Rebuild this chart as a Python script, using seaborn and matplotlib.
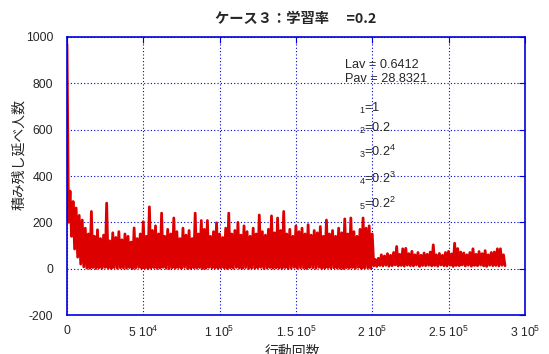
import numpy as np
import pandas as pd
import matplotlib
matplotlib.use("Agg")
import matplotlib.pyplot as plt
import seaborn as sns

# peak value per 2000-step bin
peak_vals = [
    970, 335, 290, 262, 230, 210, 175, 150, 247, 140,
    168, 130, 145, 283, 120, 155, 135, 160, 125, 150,
    140, 115, 176, 130, 150, 203, 140, 267, 165, 185,
    150, 240, 140, 170, 150, 219, 160, 130, 175, 145,
    165, 130, 240, 150, 208, 170, 208, 140, 160, 198,
    150, 135, 175, 240, 150, 165, 200, 145, 185, 160,
    140, 175, 150, 232, 160, 145, 170, 228, 155, 219,
    165, 247, 150, 170, 140, 185, 160, 175, 150, 190,
    145, 165, 155, 182, 140, 210, 150, 165, 140, 175,
    155, 215, 150, 219, 160, 140, 170, 219, 175, 185,
    150, 40, 45, 60, 55, 65, 58, 70, 96, 62,
    86, 88, 65, 75, 60, 70, 58, 68, 62, 72,
    103, 60, 66, 58, 70, 75, 64, 110, 87, 72,
    68, 60, 70, 86, 62, 74, 65, 78, 60, 70,
    72, 86, 86, 60,
]
# trough value per bin (half a bin later)
low_vals = [
    200, 140, 85, 50, 20, 8, 3, 2, 5, 1,
    4, 2, 6, 3, 1, 5, 2, 4, 3, 2,
    5, 1, 3, 6, 2, 4, 1, 3, 5, 2,
    3, 6, 2, 1, 4, 3, 5, 2, 6, 1,
    2, 4, 3, 5, 1, 2, 6, 3, 4, 2,
    5, 3, 1, 4, 2, 6, 3, 2, 5, 1,
    3, 2, 4, 6, 1, 3, 5, 2, 4, 3,
    2, 5, 1, 3, 6, 2, 4, 3, 1, 5,
    4, 2, 6, 1, 3, 5, 2, 4, 3, 2,
    1, 4, 3, 5, 2, 6, 1, 3, 4, 2,
    12, 10, 14, 12, 15, 11, 13, 16, 12, 14,
    11, 15, 13, 12, 16, 10, 14, 13, 15, 12,
    14, 11, 16, 13, 12, 15, 10, 14, 13, 16,
    12, 15, 11, 14, 13, 16, 12, 10, 15, 13,
    14, 12, 15, 13,
]
bin_size = 2000

xticks = [0, 50000, 100000, 150000, 200000, 250000, 300000]
xtick_labels = ["0", r"5 $10^{4}$", r"1 $10^{5}$", r"1.5 $10^{5}$",
                r"2 $10^{5}$", r"2.5 $10^{5}$", r"3 $10^{5}$"]
yticks = [-200, 0, 200, 400, 600, 800, 1000]
ytick_labels = ["-200", "0", "200", "400", "600", "800", "1000"]

title = "ケース３：学習率　 =0.2"
stats = ["Lav = 0.6412", "Pav = 28.8321"]
params = [r"${}_{1}$=1", r"${}_{2}$=0.2", r"${}_{3}$=0.2$^{4}$",
          r"${}_{4}$=0.2$^{3}$", r"${}_{5}$=0.2$^{2}$"]

n = len(peak_vals)
steps = np.empty(2 * n)
vals = np.empty(2 * n)
steps[0::2] = np.arange(n) * bin_size
steps[1::2] = np.arange(n) * bin_size + bin_size / 2
vals[0::2] = peak_vals
vals[1::2] = low_vals
df = pd.DataFrame({"step": steps, "value": vals})

sns.set_style("white")
plt.rcParams["font.family"] = ["Liberation Sans", "Noto Sans CJK JP"]
plt.rcParams["mathtext.fontset"] = "custom"
plt.rcParams["mathtext.rm"] = "Liberation Sans"
plt.rcParams["mathtext.it"] = "Liberation Sans"
plt.rcParams["axes.unicode_minus"] = False

blue = "#0000dd"
cjk = ["Noto Sans CJK JP", "DejaVu Sans"]
fig = plt.figure(figsize=(5.49, 3.54), dpi=100)
ax = fig.add_axes([0.122, 0.110, 0.834, 0.7855])

sns.lineplot(data=df, x="step", y="value", estimator=None, sort=False,
             color="#dd0000", linewidth=2.0, ax=ax)

ax.set_xlim(0, 300000)
ax.set_ylim(-200, 1000)
ax.set_xticks(xticks)
ax.set_xticklabels(xtick_labels)
ax.set_yticks(yticks)
ax.set_yticklabels(ytick_labels)
ax.tick_params(axis="both", direction="in", color=blue, length=4,
               labelsize=8.8, top=True, right=True)
ax.tick_params(axis="x", pad=7)
ax.tick_params(axis="y", pad=10)
ax.grid(True, color=blue, linestyle=(0, (1, 2)), linewidth=0.8)
for sp in ax.spines.values():
    sp.set_color(blue)
    sp.set_linewidth(1.2)

ax.set_title(title, fontsize=10.3, fontweight="bold", pad=10, family=cjk)
ax.set_ylabel("積み残し延べ人数", fontsize=10, family=cjk)
ax.yaxis.set_label_coords(-0.09, 0.576)
ax.set_xlabel("行動回数", fontsize=10, family=cjk)
ax.xaxis.set_label_coords(0.493, -0.108)

ax.text(0.607, 0.887, stats[0], transform=ax.transAxes, fontsize=9.2, va="baseline")
ax.text(0.607, 0.839, stats[1], transform=ax.transAxes, fontsize=9.2, va="baseline")
for lbl, yy in zip(params, [0.731, 0.659, 0.572, 0.476, 0.385]):
    ax.text(0.638, yy, lbl, transform=ax.transAxes, fontsize=9.2, va="baseline")

fig.savefig("out.png", dpi=100)
